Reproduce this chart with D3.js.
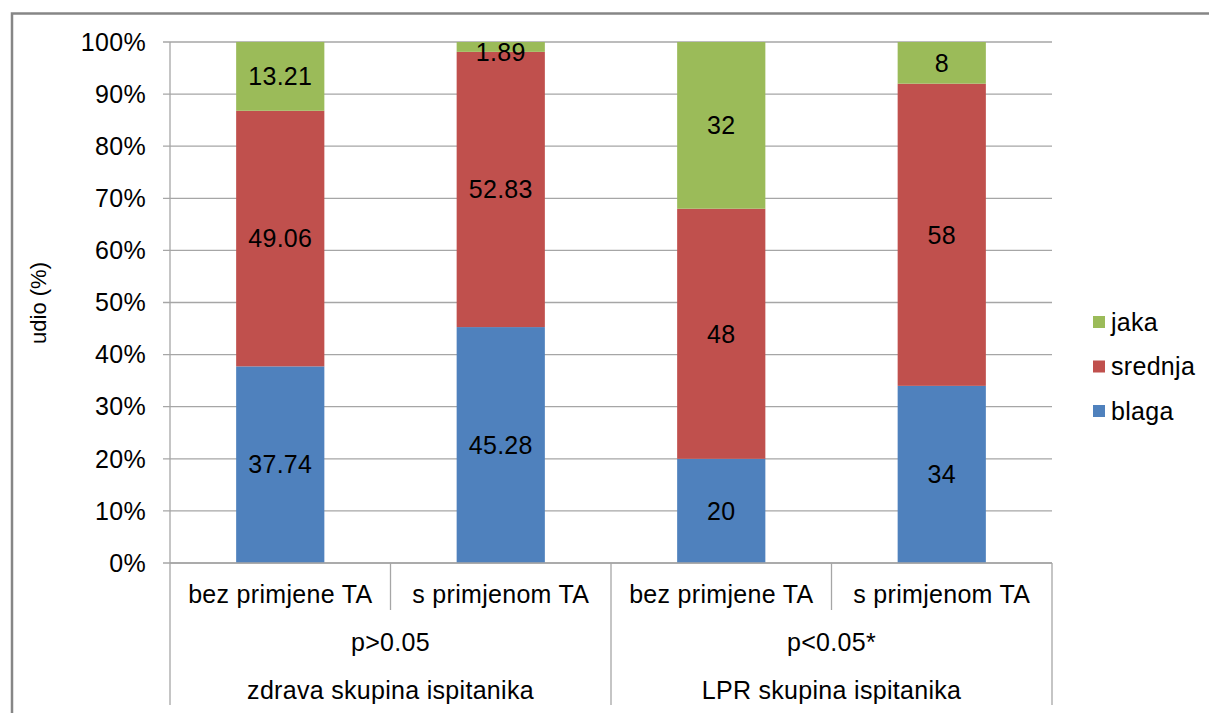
<!DOCTYPE html>
<html><head><meta charset="utf-8">
<script src="https://cdn.jsdelivr.net/npm/d3@7"></script>
<style>body{margin:0;background:#fff;}svg{display:block;font-family:"Liberation Sans",Arial,sans-serif;}</style>
</head><body>
<svg id="c" width="1209" height="713"></svg>
<script>
const categories = ["bez primjene TA","s primjenom TA","bez primjene TA","s primjenom TA"];
const groups = ["zdrava skupina ispitanika","LPR skupina ispitanika"];
const groupP = ["p>0.05","p<0.05*"];
const blaga = [37.74,45.28,20,34];
const srednja = [49.06,52.83,48,58];
const jaka = [13.21,1.89,32,8];
const seriesNames = ["blaga","srednja","jaka"];
const colors = ["#4F81BD","#C0504D","#9BBB59"];
const yTicks = [0,10,20,30,40,50,60,70,80,90,100];

const FS = 25, LS = 0.3;
const svg = d3.select("#c");
const L=170, R=1052, T=42, B=563;
svg.append("rect").attr("x",12).attr("y",13.5).attr("width",1210).attr("height",720)
  .attr("fill","none").attr("stroke","#868686").attr("stroke-width",2.5);

const x = d3.scaleBand().domain(d3.range(categories.length)).range([L,R]).paddingInner(0).paddingOuter(0);
const y = d3.scaleLinear().domain([0,100]).range([B,T]);
const grid = "#A6A6A6";

svg.append("g").selectAll("line").data(yTicks).join("line")
  .attr("x1",L-7).attr("x2",R).attr("y1",d=>y(d)).attr("y2",d=>y(d))
  .attr("stroke",grid).attr("stroke-width",1.3);
svg.append("g").selectAll("text").data(yTicks).join("text")
  .attr("x",L-24).attr("y",d=>y(d)).attr("dy","0.35em").attr("text-anchor","end")
  .attr("font-size",FS).attr("letter-spacing",LS).attr("fill","#000").text(d=>d+"%");
svg.append("line").attr("x1",L).attr("x2",L).attr("y1",T).attr("y2",B).attr("stroke",grid).attr("stroke-width",1.3);

const table = categories.map((c,i)=>({i, blaga:blaga[i], srednja:srednja[i], jaka:jaka[i]}));
const stack = d3.stack().keys(seriesNames)(table);
const bw = x.bandwidth()*0.4;
stack.forEach((s,si)=>{
  const g = svg.append("g");
  g.selectAll("rect").data(s).join("rect")
    .attr("x",d=>x(d.data.i)+x.bandwidth()/2-bw/2).attr("width",bw)
    .attr("y",d=>y(d[1])).attr("height",d=>y(d[0])-y(d[1]))
    .attr("fill",colors[si]);
  g.selectAll("text").data(s).join("text")
    .attr("x",d=>x(d.data.i)+x.bandwidth()/2)
    .attr("y",d=>Math.max(y((d[0]+d[1])/2), y(100)+10))
    .attr("dy","0.35em").attr("text-anchor","middle").attr("font-size",FS).attr("letter-spacing",LS).attr("fill","#000")
    .text(d=>String(d.data[s.key]));
});

const ax = svg.append("g");
ax.append("line").attr("x1",L).attr("x2",R).attr("y1",B).attr("y2",B).attr("stroke",grid).attr("stroke-width",1.3);
[0,2,4].forEach(k=>{
  const xx = k<4 ? x(k) : R;
  ax.append("line").attr("x1",xx).attr("x2",xx).attr("y1",B).attr("y2",705).attr("stroke",grid).attr("stroke-width",1.3);
});
[1,3].forEach(k=>{
  ax.append("line").attr("x1",x(k)).attr("x2",x(k)).attr("y1",B).attr("y2",610).attr("stroke",grid).attr("stroke-width",1.3);
});
ax.selectAll("text.c").data(categories).join("text").attr("class","c")
  .attr("x",(d,i)=>x(i)+x.bandwidth()/2).attr("y",594).attr("dy","0.35em")
  .attr("text-anchor","middle").attr("font-size",FS).attr("letter-spacing",LS).text(d=>d);
ax.selectAll("text.p").data(groupP).join("text").attr("class","p")
  .attr("x",(d,i)=>x(i*2)+x.bandwidth()).attr("y",642).attr("dy","0.35em")
  .attr("text-anchor","middle").attr("font-size",FS).attr("letter-spacing",LS).text(d=>d);
ax.selectAll("text.g").data(groups).join("text").attr("class","g")
  .attr("x",(d,i)=>x(i*2)+x.bandwidth()).attr("y",690).attr("dy","0.35em")
  .attr("text-anchor","middle").attr("font-size",FS).attr("letter-spacing",LS).text(d=>d);

svg.append("text").attr("transform","translate(38,303) rotate(-90)").attr("text-anchor","middle")
  .attr("dy","0.35em").attr("font-size",22).text("udio (%)");

const leg = svg.append("g");
const legOrder = [2,1,0];
legOrder.forEach((si,k)=>{
  const ly = 322 + k*44.5;
  leg.append("rect").attr("x",1093).attr("y",ly-6).attr("width",12).attr("height",12).attr("fill",colors[si]);
  leg.append("text").attr("x",1111).attr("y",ly).attr("dy","0.35em").attr("font-size",FS).attr("letter-spacing",LS).text(seriesNames[si]);
});
</script>
</body></html>
